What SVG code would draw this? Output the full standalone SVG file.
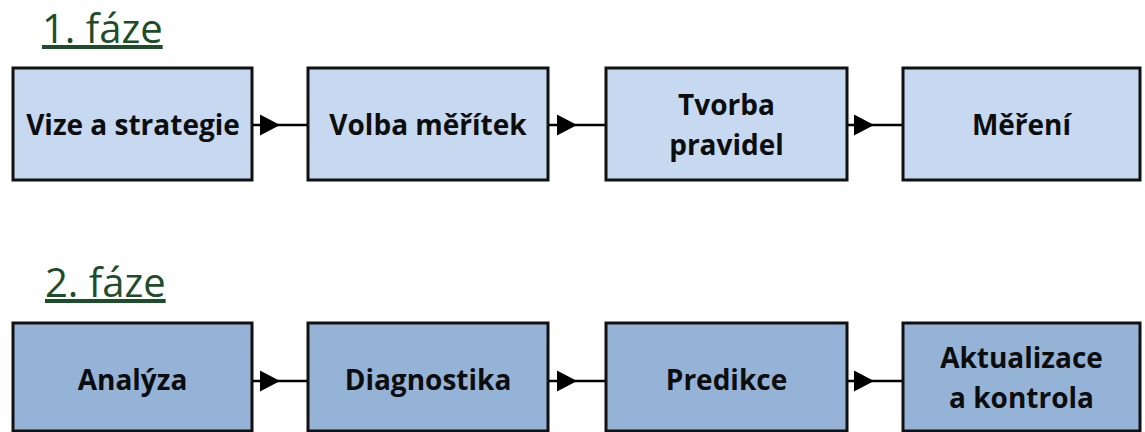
<svg xmlns="http://www.w3.org/2000/svg" xmlns:xlink="http://www.w3.org/1999/xlink" width="1145" height="432" viewBox="0 0 1145 432">
  <style>
    .phase { font-family: "Open Sans", "Noto Sans", sans-serif; font-size: 40px; fill: #1e4d2b; text-decoration: underline; }
    .box1 { fill: #c6d9f0; stroke: #111; stroke-width: 3; }
    .box2 { fill: #95b3d7; stroke: #111; stroke-width: 3; }
    .lbl { font-family: "Open Sans", "Noto Sans", sans-serif; font-size: 28px; font-weight: bold; fill: #0d0d0d; text-anchor: middle; }
    .wire { stroke: #000; stroke-width: 2.5; fill: none; }
  </style>
  <defs>
    <!-- filled right-pointing arrowhead, origin at its left edge -->
    <path id="head" d="M0,-10.5 L20,0 L0,10.5 Z" fill="#000"/>
  </defs>

  <rect width="1145" height="432" fill="#fff"/>

  <text class="phase" x="42" y="43">1. fáze</text>
  <text class="phase" x="45" y="297">2. fáze</text>

  <!-- connectors -->
  <g id="connectors">
    <line class="wire" x1="252" y1="125" x2="308" y2="125"/>
    <use xlink:href="#head" href="#head" x="260" y="125"/>
    <line class="wire" x1="548" y1="125" x2="606" y2="125"/>
    <use xlink:href="#head" href="#head" x="557" y="125"/>
    <line class="wire" x1="847" y1="125" x2="903" y2="125"/>
    <use xlink:href="#head" href="#head" x="854" y="125"/>

    <line class="wire" x1="252" y1="381" x2="308" y2="381"/>
    <use xlink:href="#head" href="#head" x="260" y="381"/>
    <line class="wire" x1="548" y1="381" x2="606" y2="381"/>
    <use xlink:href="#head" href="#head" x="557" y="381"/>
    <line class="wire" x1="847" y1="381" x2="903" y2="381"/>
    <use xlink:href="#head" href="#head" x="854" y="381"/>
  </g>

  <!-- phase 1 -->
  <g id="vize">
    <rect class="box1" x="13" y="68" width="239" height="112"/>
    <text class="lbl" x="133" y="135">Vize a strategie</text>
  </g>
  <g id="volba">
    <rect class="box1" x="308" y="68" width="240" height="112"/>
    <text class="lbl" x="428" y="135">Volba měřítek</text>
  </g>
  <g id="tvorba">
    <rect class="box1" x="606" y="68" width="241" height="112"/>
    <text class="lbl" x="726.5" y="115">Tvorba</text>
    <text class="lbl" x="726.5" y="155">pravidel</text>
  </g>
  <g id="mereni">
    <rect class="box1" x="903" y="68" width="237" height="112"/>
    <text class="lbl" x="1021.5" y="135">Měření</text>
  </g>

  <!-- phase 2 -->
  <g id="analyza">
    <rect class="box2" x="13" y="323" width="239" height="108"/>
    <text class="lbl" x="132.5" y="390">Analýza</text>
  </g>
  <g id="diagnostika">
    <rect class="box2" x="308" y="323" width="240" height="108"/>
    <text class="lbl" x="428" y="390">Diagnostika</text>
  </g>
  <g id="predikce">
    <rect class="box2" x="606" y="323" width="241" height="108"/>
    <text class="lbl" x="726.5" y="390">Predikce</text>
  </g>
  <g id="aktualizace">
    <rect class="box2" x="903" y="323" width="237" height="108"/>
    <text class="lbl" x="1021.5" y="368">Aktualizace</text>
    <text class="lbl" x="1021.5" y="408">a kontrola</text>
  </g>
</svg>
